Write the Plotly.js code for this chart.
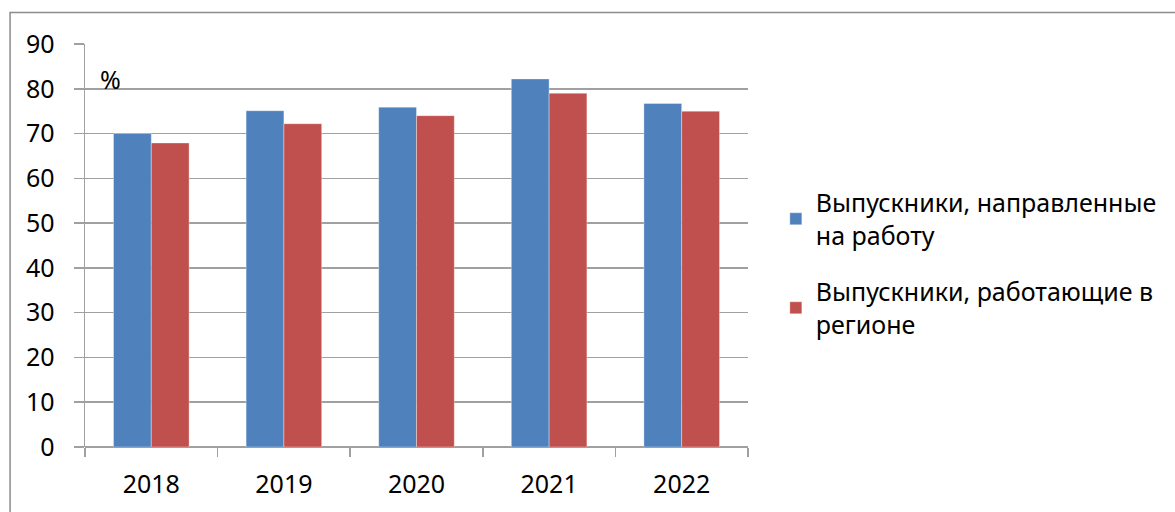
<!DOCTYPE html>
<html>
<head>
<meta charset="utf-8">
<script src="https://cdn.plot.ly/plotly-3.0.1.min.js"></script>
<style>html,body{margin:0;padding:0;background:#fff;}#chart{width:1175px;height:512px;}</style>
</head>
<body>
<div id="chart"></div>
<script>
const categories = ["2018", "2019", "2020", "2021", "2022"];
const seriesNames = ["Выпускники, направленные<br>на работу", "Выпускники, работающие в<br>регионе"];
const sentToWork = [70.0, 75.1, 75.9, 82.2, 76.7];
const workingInRegion = [67.9, 72.2, 74.0, 79.0, 75.0];
const yTicks = [0, 10, 20, 30, 40, 50, 60, 70, 80, 90];

const FONT = "Noto Sans, Open Sans, sans-serif";
const FS = 25;
const traces = [
  {type: "bar", name: seriesNames[0], legendgroup: "g1", x: categories, y: sentToWork,
   marker: {color: "#4F81BD", line: {color: "rgba(255,255,255,0.35)", width: 1}}},
  {type: "bar", name: seriesNames[1], legendgroup: "g2", x: categories, y: workingInRegion,
   marker: {color: "#C0504D", line: {color: "rgba(255,255,255,0.35)", width: 1}}}
];
const layout = {
  width: 1175, height: 512,
  margin: {l: 85, r: 427, t: 44, b: 65},
  paper_bgcolor: "#ffffff", plot_bgcolor: "#ffffff",
  font: {family: FONT, size: FS, color: "#000000"},
  barmode: "group", bargap: 0.43, bargroupgap: 0,
  showlegend: true,
  legend: {x: 1.042, y: 0.663, xanchor: "left", yanchor: "top",
           font: {family: FONT, size: FS, color: "#000"}, tracegroupgap: 21,
           bgcolor: "rgba(0,0,0,0)"},
  xaxis: {type: "category", showgrid: false, showline: false, zeroline: false,
          ticks: "outside", tickson: "boundaries", ticklen: 9, tickcolor: "#a0a0a0", tickwidth: 1.5,
          ticklabelstandoff: 20, tickfont: {family: FONT, size: FS}},
  yaxis: {range: [0, 90], tickvals: yTicks, showgrid: true, gridcolor: "#a0a0a0", gridwidth: 1.5,
          showline: true, linecolor: "#a0a0a0", linewidth: 1.5, zeroline: true, zerolinecolor: "#a0a0a0", zerolinewidth: 1.5,
          ticks: "outside", ticklen: 10, tickcolor: "#a0a0a0", tickwidth: 1.5, ticklabelstandoff: 14,
          tickfont: {family: FONT, size: FS}},
  annotations: [{text: "%", xref: "paper", yref: "paper", x: 0.02, y: 0.912, xanchor: "left", yanchor: "middle",
                 showarrow: false, font: {family: FONT, size: FS, color: "#000"}}],
  shapes: [{type: "rect", xref: "paper", yref: "paper", x0: -0.113, x1: 1.8, y0: -0.3, y1: 1.078,
            line: {color: "#8c8c8c", width: 1.5}, fillcolor: "rgba(0,0,0,0)", layer: "below"}]
};
Plotly.newPlot("chart", traces, layout, {displayModeBar: false, staticPlot: true});
</script>
</body>
</html>
